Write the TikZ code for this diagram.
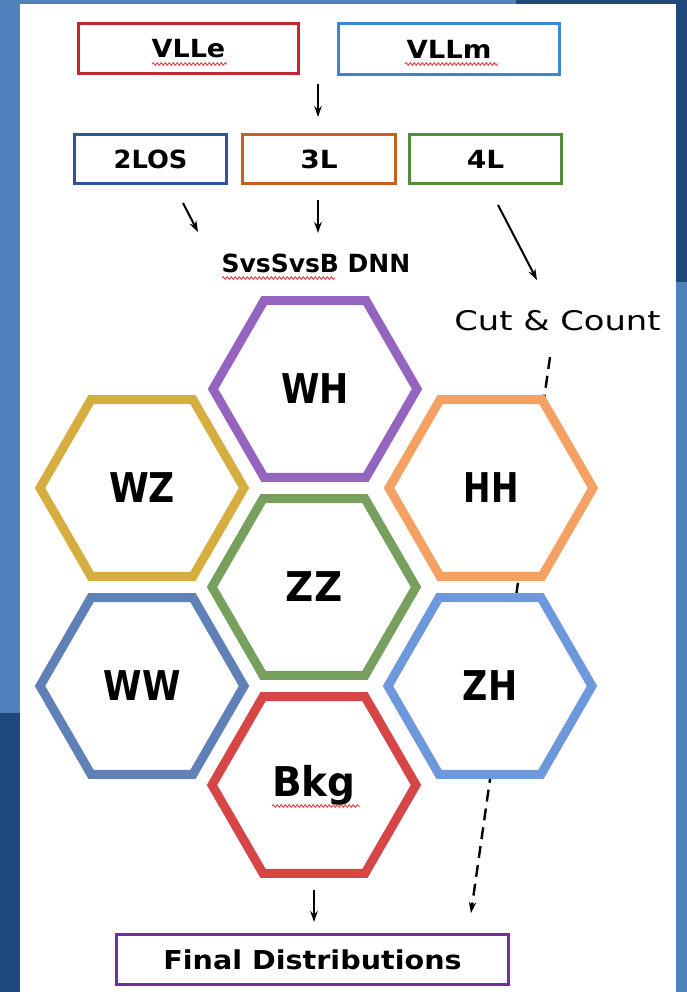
\documentclass[tikz,border=0pt]{standalone}
\usepackage{fontspec}
\setmainfont{DejaVu Sans}
\usetikzlibrary{shapes.geometric,arrows.meta,decorations.pathmorphing}
\definecolor{lb}{HTML}{4F81BD}
\definecolor{db}{HTML}{1F497D}
\definecolor{spellred}{HTML}{E84B4B}
\definecolor{cvlle}{HTML}{C0282D}
\definecolor{cvllm}{HTML}{3C87CF}
\definecolor{ctwo}{HTML}{2E559C}
\definecolor{cthree}{HTML}{C8611D}
\definecolor{cfour}{HTML}{548B3A}
\definecolor{cfinal}{HTML}{7030A0}
\definecolor{hwh}{HTML}{9564BF}
\definecolor{hwz}{HTML}{D6AE3F}
\definecolor{hhh}{HTML}{F6A164}
\definecolor{hzz}{HTML}{77A05E}
\definecolor{hww}{HTML}{6080B8}
\definecolor{hzh}{HTML}{6E98DC}
\definecolor{hbkg}{HTML}{D64646}
\newcommand{\hw}[2]{\scalebox{#1}[1]{#2}}
\begin{document}
\begin{tikzpicture}[x=1pt,y=-1pt,
  box/.style={draw, line width=3pt, inner sep=0pt, fill=white, font=\bfseries\fontsize{25}{25}\selectfont},
  hex/.style={regular polygon, regular polygon sides=6, minimum size=204pt, inner sep=0pt, line width=9pt, draw, fill=white, font=\bfseries\fontsize{41}{41}\selectfont},
  lbl/.style={inner sep=0pt, font=\bfseries\fontsize{25}{25}\selectfont},
  arr/.style={-{Stealth[length=11pt,width=7.5pt]}, line width=2pt},
  darr/.style={-{Stealth[length=11pt,width=7.5pt]}, line width=2.4pt, dash pattern=on 12pt off 7pt},
  spell/.style={draw=spellred, line width=1pt, decorate, decoration={snake, amplitude=1.3pt, segment length=4pt}},
]
\useasboundingbox (0,0) rectangle (687,992);
% background
\fill[white] (0,0) rectangle (687,992);
\fill[lb] (0,0) rectangle (20,713);
\fill[db] (0,713) rectangle (20,992);
\fill[lb] (0,0) rectangle (516,4);
\fill[db] (516,0) rectangle (687,4);
\fill[db] (676,0) rectangle (687,282);
\fill[lb] (676,282) rectangle (687,992);

% top boxes
\node[box, draw=cvlle, minimum width=220pt, minimum height=50pt] (vlle) at (188.5,48.5) {\hw{1.08}{VLLe}};
\node[box, draw=cvllm, minimum width=221pt, minimum height=51pt] (vllm) at (449,49) {\hw{1.1}{VLLm}};
\node[box, draw=ctwo, minimum width=152pt, minimum height=49.5pt] (twol) at (150.5,159) {\hw{1.03}{2LOS}};
\node[box, draw=cthree, minimum width=153pt, minimum height=49.5pt] (threel) at (319,159) {\hw{1.12}{3L}};
\node[box, draw=cfour, minimum width=152pt, minimum height=49.5pt] (fourl) at (485.5,159) {\hw{1.12}{4L}};

% labels
\node[lbl] (dnn) at (316,263) {\hw{1.0}{SvsSvsB DNN}};
\node[inner sep=0pt, font=\fontsize{27}{27}\selectfont] (cc) at (557.5,321) {\hw{1.25}{Cut \& Count}};

% spelling squiggles
\draw[spell] (152,64) -- (227,64);
\draw[spell] (405,64) -- (498,64);
\draw[spell] (222,278) -- (335,278);

% arrow coordinates
\coordinate (a1s) at (318,84);  \coordinate (a1e) at (318,117);
\coordinate (a2s) at (183,203); \coordinate (a2e) at (198,232);
\coordinate (a3s) at (318,200); \coordinate (a3e) at (318,233);
\coordinate (a4s) at (498,205); \coordinate (a4e) at (537,280);
\coordinate (dss) at (550,357); \coordinate (dse) at (471,913);
\coordinate (a5s) at (314,890); \coordinate (a5e) at (314,922);

\draw[arr] (a1s) -- (a1e);
\draw[arr] (a2s) -- (a2e);
\draw[arr] (a3s) -- (a3e);
\draw[arr] (a4s) -- (a4e);

% dashed path behind hexagons
\draw[darr] (dss) -- (dse);

% hexagons
\node[hex, draw=hwh] (wh) at (315,389) {\hw{0.85}{WH}};
\node[hex, draw=hwz] (wz) at (142,488) {\hw{0.88}{WZ}};
\node[hex, draw=hhh] (hh) at (491,488) {\hw{0.8}{HH}};
\node[hex, draw=hzz] (zz) at (314,587) {\hw{0.95}{ZZ}};
\node[hex, draw=hww] (ww) at (142,686) {\hw{0.85}{WW}};
\node[hex, draw=hzh] (zh) at (490,686) {\hw{0.85}{ZH}};
\node[hex, draw=hbkg] (bkg) at (314,785) {\hw{0.95}{Bkg}};
\draw[spell] (272,806) -- (360,806);

% final
\draw[arr] (a5s) -- (a5e);
\node[box, draw=cfinal, minimum width=392pt, minimum height=50.5pt, font=\bfseries\fontsize{26}{26}\selectfont] (final) at (312.5,959.5) {\hw{1.1}{Final Distributions}};
\end{tikzpicture}
\end{document}
